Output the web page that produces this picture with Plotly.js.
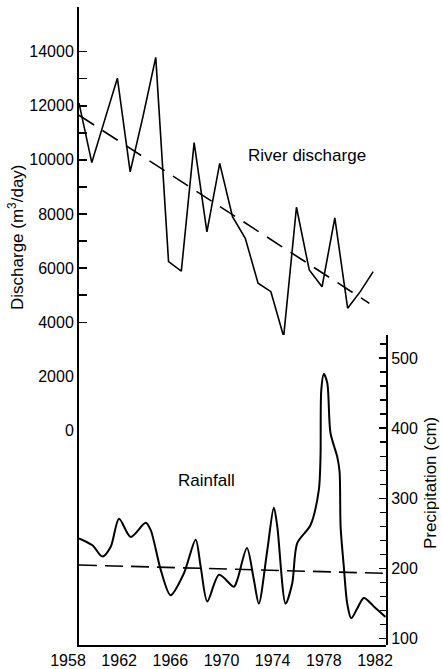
<!DOCTYPE html>
<html>
<head>
<meta charset="utf-8">
<script src="https://cdn.plot.ly/plotly-3.0.1.min.js"></script>
<style>
html,body{margin:0;padding:0;background:#fff;}
#chart{width:442px;height:669px;}
</style>
</head>
<body>
<div id="chart"></div>
<script>
// River discharge (m3/day), annual
const years = [1958,1959,1960,1961,1962,1963,1964,1965,1966,1967,1968,1969,1970,1971,1972,1973,1974,1975,1976,1977,1978,1979,1980,1981];
const discharge = [12100,9900,11460,13020,9560,11600,13790,6240,5890,10640,7340,9870,7900,7100,5440,5130,3470,8250,5930,5310,7860,4520,5140,5870];
// Discharge trend line endpoints
const dischargeTrendYears = [1958,1980.7];
const dischargeTrend = [11650,4700];
// Rainfall (cm)
const rainYears = [1958.0,1959.05,1959.83,1960.48,1961.13,1962.04,1963.21,1963.6,1964.39,1965.16,1966.2,1967.12,1967.51,1968.03,1968.95,1970.11,1970.38,1971.13,1971.67,1972.06,1972.72,1973.23,1973.5,1974.15,1974.67,1975.06,1976.1,1976.75,1976.88,1976.94,1977.14,1977.41,1977.66,1978.19,1978.37,1978.45,1978.7,1978.97,1979.28,1979.75,1980.27,1981.05,1981.96];
const rainfall = [243,233,217,231,271,245,265,255,198,162,193,241,203,153,191,174,184,229,184,150,226,287,260,150,179,236,262,312,359,454,477,464,393,359,338,260,203,150,129,143,158,146,131];
// Rainfall trend line endpoints
const rainTrendYears = [1958,1982];
const rainTrend = [205,193];
// Tick values and labels
const xTickVals = [1958,1962,1966,1970,1974,1978,1982];
const xTickText = ['1958','1962','1966','1970','1974','1978','1982'];
const yTickVals = [0,2000,4000,6000,8000,10000,12000,14000];
const yTickText = ['0','2000','4000','6000','8000','10000','12000','14000'];
const yMinorVals = [1000,3000,5000,7000,9000,11000,13000];
const y2TickVals = [100,200,300,400,500];
const y2TickText = ['100','200','300','400','500'];
const y2MinorVals = [120,140,160,180,220,240,260,280,320,340,360,380,420,440,460,480,520];

const FONT = 'Liberation Sans, Arial, Helvetica, sans-serif';

const traces = [
  {x: years, y: discharge, type:'scatter', mode:'lines', line:{color:'#000', width:1.6}, xaxis:'x', yaxis:'y'},
  {x: dischargeTrendYears, y: dischargeTrend, type:'scatter', mode:'lines', line:{color:'#000', width:1.6, dash:'18px,10px'}, xaxis:'x', yaxis:'y'},
  {x: rainYears, y: rainfall, type:'scatter', mode:'lines', line:{color:'#000', width:2, shape:'spline', smoothing:0.8}, xaxis:'x', yaxis:'y2'},
  {x: rainTrendYears, y: rainTrend, type:'scatter', mode:'lines', line:{color:'#000', width:1.6, dash:'18px,8px'}, xaxis:'x', yaxis:'y2'}
];

const layout = {
  width:442, height:669,
  margin:{l:79, r:56, t:7, b:24, pad:0},
  paper_bgcolor:'#fff', plot_bgcolor:'#fff',
  showlegend:false,
  font:{family:FONT, size:16, color:'#000'},
  xaxis:{
    range:[1958,1982], showgrid:false, zeroline:false,
    showline:true, linecolor:'#000', linewidth:2,
    tickmode:'array', tickvals:xTickVals, ticktext:xTickText,
    ticks:'inside', ticklen:8, tickwidth:1.5, tickcolor:'#000',
    ticklabelshift:-11,
    minor:{tickmode:'linear', tick0:1958, dtick:1, ticks:'inside', ticklen:5, tickwidth:1.3, tickcolor:'#000', showgrid:false},
    tickfont:{family:FONT, size:16, color:'#000'}
  },
  yaxis:{
    range:[-7927,15650], showgrid:false, zeroline:false,
    showline:true, linecolor:'#000', linewidth:2,
    tickmode:'array', tickvals:yTickVals, ticktext:yTickText,
    ticks:'inside', ticklen:8, tickwidth:1.5, tickcolor:'#000',
    minor:{tickmode:'array', tickvals:yMinorVals, ticks:'inside', ticklen:8, tickwidth:1.5, tickcolor:'#000', showgrid:false},
    tickfont:{family:FONT, size:16, color:'#000'}
  },
  yaxis2:{
    domain:[0,0.486], anchor:'x', side:'right',
    range:[91,532.7], showgrid:false, zeroline:false,
    showline:true, linecolor:'#000', linewidth:2,
    tickmode:'array', tickvals:y2TickVals, ticktext:y2TickText,
    ticks:'inside', ticklen:7, tickwidth:1.4, tickcolor:'#000',
    minor:{tickmode:'array', tickvals:y2MinorVals, ticks:'inside', ticklen:6, tickwidth:1.3, tickcolor:'#000', showgrid:false},
    tickfont:{family:FONT, size:16, color:'#000'}
  },
  annotations:[
    {text:'River discharge', xref:'x', yref:'y', x:1975.84, y:10155, showarrow:false, xanchor:'center', yanchor:'middle', font:{family:FONT, size:17, color:'#000'}},
    {text:'Rainfall', xref:'x', yref:'y2', x:1967.95, y:325, showarrow:false, xanchor:'center', yanchor:'middle', font:{family:FONT, size:17, color:'#000'}},
    {text:'Discharge (m<sup>3</sup>/day)', xref:'paper', yref:'paper', x:0, xshift:-63.7, y:0.64, textangle:-90, showarrow:false, xanchor:'center', yanchor:'middle', font:{family:FONT, size:17, color:'#000'}},
    {text:'Precipitation (cm)', xref:'paper', yref:'y2', x:1, xshift:45, y:321.8, textangle:-90, showarrow:false, xanchor:'center', yanchor:'middle', font:{family:FONT, size:17, color:'#000'}}
  ]
};

Plotly.newPlot('chart', traces, layout, {staticPlot:true, displayModeBar:false});
</script>
</body>
</html>
